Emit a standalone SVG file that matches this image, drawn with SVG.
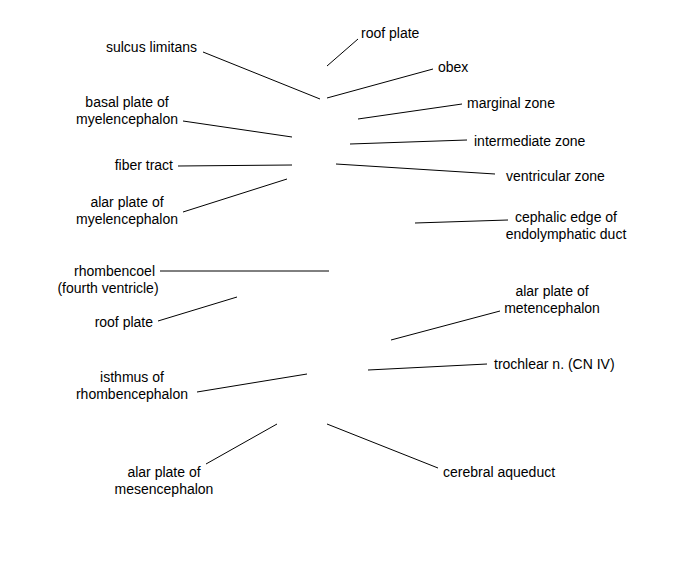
<svg xmlns="http://www.w3.org/2000/svg" width="675" height="580" viewBox="0 0 675 580">
<style>
text{font-family:"Liberation Sans",Arial,sans-serif;font-size:14px;fill:#000}
.m{text-anchor:middle}.e{text-anchor:end}
#connectors line{stroke:#000;stroke-width:1;fill:none}
</style>
<rect width="675" height="580" fill="#fff"/>
<g id="connectors">
<line x1="358" y1="39" x2="327" y2="66"/>
<line x1="203" y1="52" x2="320" y2="99"/>
<line x1="433" y1="69" x2="327" y2="98"/>
<line x1="183" y1="121" x2="292" y2="137"/>
<line x1="462" y1="104" x2="358" y2="119"/>
<line x1="467" y1="140" x2="350" y2="144"/>
<line x1="178" y1="166" x2="292" y2="165"/>
<line x1="495" y1="174" x2="336" y2="164"/>
<line x1="183" y1="212" x2="287" y2="179"/>
<line x1="508" y1="220" x2="415" y2="223"/>
<line x1="160" y1="271" x2="329" y2="271"/>
<line x1="158" y1="321" x2="237" y2="297"/>
<line x1="500" y1="311" x2="391" y2="340"/>
<line x1="487" y1="364" x2="368" y2="370"/>
<line x1="197" y1="392" x2="307" y2="374"/>
<line x1="206" y1="464" x2="277" y2="424"/>
<line x1="327" y1="424" x2="438" y2="468"/>
</g>
<g id="roof-plate-top"><text x="361" y="38">roof plate</text></g>
<g id="sulcus-limitans"><text class="e" x="197" y="52">sulcus limitans</text></g>
<g id="obex"><text x="438" y="72">obex</text></g>
<g id="basal-plate"><text class="m" x="127" y="107">basal plate of</text><text class="m" x="127" y="124">myelencephalon</text></g>
<g id="marginal-zone"><text x="467" y="108">marginal zone</text></g>
<g id="intermediate-zone"><text x="474" y="146">intermediate zone</text></g>
<g id="fiber-tract"><text class="e" x="173" y="170">fiber tract</text></g>
<g id="ventricular-zone"><text x="506" y="181">ventricular zone</text></g>
<g id="alar-plate-myel"><text class="m" x="127" y="207">alar plate of</text><text class="m" x="127" y="224">myelencephalon</text></g>
<g id="cephalic-edge"><text class="m" x="566" y="222">cephalic edge of</text><text class="m" x="566" y="239">endolymphatic duct</text></g>
<g id="rhombencoel"><text class="e" x="155" y="276">rhombencoel</text><text class="m" x="108" y="293">(fourth ventricle)</text></g>
<g id="roof-plate-bottom"><text class="e" x="153" y="327">roof plate</text></g>
<g id="alar-plate-met"><text class="m" x="552" y="296">alar plate of</text><text class="m" x="552" y="313">metencephalon</text></g>
<g id="trochlear"><text x="494" y="369">trochlear n. (CN IV)</text></g>
<g id="isthmus"><text class="m" x="132" y="382">isthmus of</text><text class="m" x="132" y="399">rhombencephalon</text></g>
<g id="alar-plate-mes"><text class="m" x="164" y="477">alar plate of</text><text class="m" x="164" y="494">mesencephalon</text></g>
<g id="cerebral-aqueduct"><text x="443" y="477">cerebral aqueduct</text></g>
</svg>
